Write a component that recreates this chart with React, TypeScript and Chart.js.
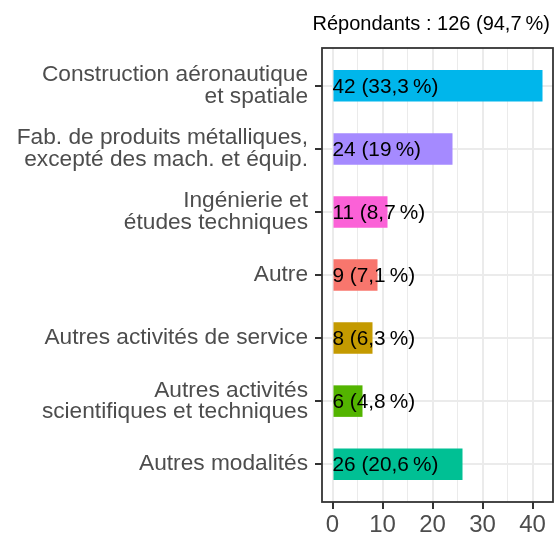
import React, { useEffect, useRef } from 'react';
import { Chart, registerables } from 'chart.js';

Chart.register(...registerables);

const categories: string[][] = [
  ['Construction aéronautique', 'et spatiale'],
  ['Fab. de produits métalliques,', 'excepté des mach. et équip.'],
  ['Ingénierie et', 'études techniques'],
  ['Autre'],
  ['Autres activités de service'],
  ['Autres activités', 'scientifiques et techniques'],
  ['Autres modalités'],
];
const counts: number[] = [42, 24, 11, 9, 8, 6, 26];
const percents: string[] = ['33,3', '19', '8,7', '7,1', '6,3', '4,8', '20,6'];
const barColors: string[] = ['#00B6EB', '#A58AFF', '#FB61D7', '#F8766D', '#C49A00', '#53B400', '#00C094'];
const xMajorTicks: number[] = [0, 10, 20, 30, 40];
const xMinorTicks: number[] = [5, 15, 25, 35];
const titleText = 'Répondants : 126 (94,7\u202F%)';

const FONT = '"Liberation Sans", Arial, Helvetica, sans-serif';

export default function App() {
  const ref = useRef<HTMLCanvasElement | null>(null);

  useEffect(() => {
    if (!ref.current) return;

    const panelPlugin = {
      id: 'panelExtras',
      afterDatasetsDraw(chart: any) {
        const { ctx, chartArea } = chart;
        const xs = chart.scales.x;
        ctx.save();
        // data labels
        ctx.font = `20.8px ${FONT}`;
        ctx.fillStyle = '#000000';
        ctx.textAlign = 'left';
        ctx.textBaseline = 'middle';
        const meta = chart.getDatasetMeta(0);
        meta.data.forEach((el: any, i: number) => {
          const x0 = xs.getPixelForValue(0);
          ctx.fillText(`${counts[i]} (${percents[i]}\u202F%)`, x0, el.y + 1);
        });
        // panel border
        ctx.strokeStyle = '#333333';
        ctx.lineWidth = 1.8;
        ctx.strokeRect(chartArea.left, chartArea.top, chartArea.right - chartArea.left, chartArea.bottom - chartArea.top);
        // title
        ctx.font = `20px ${FONT}`;
        ctx.fillStyle = '#000000';
        ctx.textAlign = 'right';
        ctx.textBaseline = 'alphabetic';
        ctx.fillText(titleText, chartArea.right - 3, 30);
        ctx.restore();
      },
    };

    const chart = new Chart(ref.current, {
      type: 'bar',
      data: {
        datasets: [
          {
            data: counts.map((v, i) => ({ x: v, y: i + 1 })) as any,
            backgroundColor: barColors,
            borderWidth: 0,
            barPercentage: 0.5,
            categoryPercentage: 1,
          },
        ],
      },
      options: {
        indexAxis: 'y',
        animation: false,
        responsive: false,
        layout: { padding: { top: 48, right: 2, left: 0, bottom: 0 } },
        plugins: { legend: { display: false }, tooltip: { enabled: false }, title: { display: false } },
        scales: {
          x: {
            type: 'linear',
            position: 'bottom',
            min: -2.1,
            max: 44.1,
            offset: false,
            afterBuildTicks: (s: any) => {
              s.ticks = [...xMajorTicks, ...xMinorTicks].sort((a, b) => a - b).map((v) => ({ value: v }));
            },
            ticks: {
              autoSkip: false,
              maxRotation: 0,
              color: '#4D4D4D',
              font: { family: FONT, size: 24 },
              padding: 2,
              callback: (v: any) => (xMajorTicks.includes(Number(v)) ? String(v) : ''),
            },
            grid: {
              offset: false,
              color: '#EBEBEB',
              lineWidth: (c: any) => (c.tick && xMajorTicks.includes(c.tick.value) ? 2 : 1),
              tickColor: (c: any) => (c.tick && xMajorTicks.includes(c.tick.value) ? '#333333' : 'rgba(0,0,0,0)'),
              tickLength: 7,
              tickWidth: 2,
            },
            border: { display: false },
            afterFit: (s: any) => {
              s.height = 31;
            },
          } as any,
          y: {
            type: 'linear',
            min: 0.4,
            max: 7.6,
            reverse: true,
            offset: false,
            afterBuildTicks: (s: any) => {
              s.ticks = categories.map((_, i) => ({ value: i + 1 }));
            },
            ticks: {
              autoSkip: false,
              color: '#4D4D4D',
              font: { family: FONT, size: 22.7, lineHeight: 0.95 },
              padding: 7,
              callback: (_v: any, idx: number) => categories[idx],
            },
            grid: {
              offset: false,
              color: '#EBEBEB',
              lineWidth: 2,
              tickColor: '#333333',
              tickLength: 7,
              tickWidth: 2,
            },
            border: { display: false },
            afterFit: (s: any) => {
              s.width = 322;
            },
          } as any,
        },
      },
      plugins: [panelPlugin],
    });

    return () => chart.destroy();
  }, []);

  return (
    <div style={{ position: 'absolute', left: 0, top: 0, width: 555, height: 533, background: '#ffffff' }}>
      <canvas ref={ref} width={555} height={533} style={{ display: 'block' }} />
    </div>
  );
}
